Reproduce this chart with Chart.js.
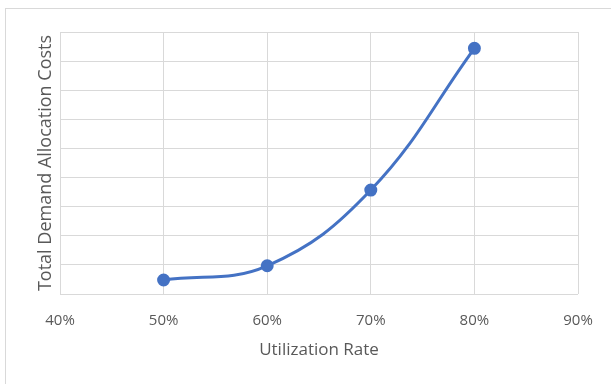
<!DOCTYPE html>
<html>
<head>
<meta charset="utf-8">
<script src="https://cdn.jsdelivr.net/npm/chart.js@4/dist/chart.umd.min.js"></script>
<style>
  html, body { margin: 0; padding: 0; background: #ffffff; }
  #wrap { width: 611px; height: 384px; }
</style>
</head>
<body>
<div id="wrap"><canvas id="c" width="611" height="384"></canvas></div>
<script>
// Utilization rate (%) and total demand allocation cost (relative units)
const utilization = [50, 60, 70, 80];
const allocationCost = [0.48, 0.97, 3.57, 8.44];

const xTitle = 'Utilization Rate';
const yTitle = 'Total Demand Allocation Costs';

const textColor = '#595959';
const gridColor = '#d9d9d9';
const lineColor = '#4472c4';

// light frame around the whole chart
const framePlugin = {
  id: 'frame',
  beforeDraw(chart) {
    const ctx = chart.ctx;
    ctx.save();
    ctx.fillStyle = '#ffffff';
    ctx.fillRect(0, 0, chart.width, chart.height);
    ctx.strokeStyle = '#d9d9d9';
    ctx.lineWidth = 1;
    ctx.strokeRect(5.5, 8.5, chart.width + 10, chart.height + 10);
    ctx.restore();
  }
};

new Chart(document.getElementById('c'), {
  type: 'line',
  data: {
    datasets: [{
      data: utilization.map((u, i) => ({ x: u, y: allocationCost[i] })),
      borderColor: lineColor,
      backgroundColor: lineColor,
      borderWidth: 3,
      pointRadius: 5,
      pointBackgroundColor: lineColor,
      pointBorderColor: lineColor,
      tension: 0.4,
      fill: false
    }]
  },
  options: {
    responsive: false,
    animation: false,
    layout: { padding: { left: 35, top: 32, right: 33, bottom: 0 } },
    plugins: { legend: { display: false }, tooltip: { enabled: false } },
    scales: {
      x: {
        type: 'linear',
        min: 40,
        max: 90,
        afterFit(scale) { scale.height = 90; },
        ticks: {
          stepSize: 10,
          color: textColor,
          padding: 18,
          maxRotation: 0,
          font: { family: 'Open Sans', size: 15 },
          callback: v => v + '%'
        },
        grid: { color: gridColor, lineWidth: 1, drawTicks: false },
        border: { display: false },
        title: {
          display: true,
          text: xTitle,
          color: textColor,
          font: { family: 'Open Sans', size: 17 },
          padding: { top: 0, bottom: 24 }
        }
      },
      y: {
        min: 0,
        max: 9,
        afterFit(scale) { scale.width = 25; },
        ticks: { stepSize: 1, display: false },
        grid: { color: gridColor, lineWidth: 1, drawTicks: false },
        border: { display: false },
        title: {
          display: true,
          text: yTitle,
          color: textColor,
          font: { family: 'Open Sans', size: 18 },
          padding: { top: 0, bottom: 0 }
        }
      }
    }
  },
  plugins: [framePlugin]
});
</script>
</body>
</html>
